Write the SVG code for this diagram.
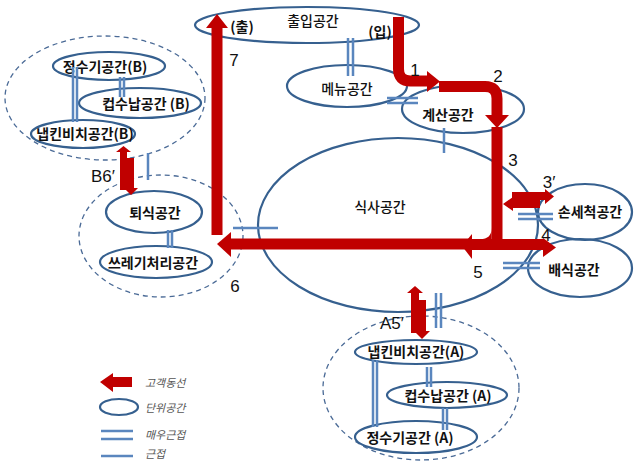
<svg xmlns="http://www.w3.org/2000/svg" width="634" height="462" viewBox="0 0 634 462">
  <style>
    .sp { fill: none; stroke: #36608F; stroke-width: 2.2; }
    .zone { fill: none; stroke: #4A6A96; stroke-width: 1.3; stroke-dasharray: 5 4; }
    .lbl { font-family: "Noto Sans CJK KR", "Liberation Sans", sans-serif; font-size: 14px; font-weight: 500; fill: #111; text-anchor: middle; }
    .b { font-weight: bold; }
    .num { font-family: "Liberation Sans", "Noto Sans CJK KR", sans-serif; font-size: 17px; fill: #111; text-anchor: middle; }
    .flow { fill: none; stroke: #C00000; stroke-width: 11; }
    .head { fill: #C00000; }
    .near2 { stroke: #5A86BE; stroke-width: 2.5; fill: none; }
    .near1 { stroke: #5A86BE; stroke-width: 2.5; fill: none; }
    .leg { font-family: "Noto Sans CJK KR", sans-serif; font-size: 11px; font-style: italic; fill: #555; }
  </style>

  <!-- spaces -->
  <g id="entrance">
    <ellipse class="sp" cx="307" cy="25" rx="112" ry="18"/>
    <text class="lbl" x="313" y="26">출입공간</text>
    <text class="lbl b" x="242" y="32" font-size="13">(출)</text>
    <text class="lbl b" x="380" y="37" font-size="13">(입)</text>
  </g>
  <g id="menu">
    <ellipse class="sp" cx="347" cy="86" rx="60" ry="21"/>
    <text class="lbl" x="347" y="94">메뉴공간</text>
  </g>
  <g id="cashier">
    <ellipse class="sp" cx="463" cy="109" rx="61" ry="24"/>
    <text class="lbl b" x="448" y="120">계산공간</text>
  </g>
  <g id="dining">
    <ellipse class="sp" cx="398" cy="225" rx="140" ry="87"/>
    <text class="lbl" x="380" y="212">식사공간</text>
  </g>
  <g id="handwash">
    <ellipse class="sp" cx="585" cy="212" rx="47" ry="28"/>
    <text class="lbl b" x="590" y="217">손세척공간</text>
  </g>
  <g id="serving">
    <ellipse class="sp" cx="580" cy="268" rx="52" ry="29"/>
    <text class="lbl b" x="574" y="275">배식공간</text>
  </g>

  <!-- cluster B -->
  <g id="cluster-b">
    <ellipse class="zone" cx="105" cy="98" rx="100" ry="62"/>
  </g>
  <g id="water-b">
    <ellipse class="sp" cx="109" cy="66" rx="56" ry="14"/>
    <text class="lbl b" x="105" y="72" font-size="13.5">정수기공간(B)</text>
  </g>
  <g id="cup-b">
    <ellipse class="sp" cx="140" cy="103" rx="61" ry="15"/>
    <text class="lbl b" x="146" y="109" font-size="13.5">컵수납공간 (B)</text>
  </g>
  <g id="napkin-b">
    <ellipse class="sp" cx="83" cy="134" rx="52" ry="14"/>
    <text class="lbl b" x="85" y="139" font-size="13">냅킨비치공간(B)</text>
  </g>

  <!-- return cluster -->
  <g id="cluster-return">
    <ellipse class="zone" cx="161" cy="236" rx="82" ry="61"/>
  </g>
  <g id="tray-return">
    <ellipse class="sp" cx="154" cy="212" rx="48" ry="21"/>
    <text class="lbl b" x="155" y="218">퇴식공간</text>
  </g>
  <g id="waste">
    <ellipse class="sp" cx="156" cy="262" rx="56" ry="16"/>
    <text class="lbl b" x="153" y="268" font-size="13">쓰레기처리공간</text>
  </g>

  <!-- cluster A -->
  <g id="cluster-a">
    <ellipse class="zone" cx="421" cy="388" rx="98" ry="72"/>
  </g>
  <g id="napkin-a">
    <ellipse class="sp" cx="416" cy="352" rx="61" ry="12"/>
    <text class="lbl b" x="416" y="357" font-size="13">냅킨비치공간(A)</text>
  </g>
  <g id="cup-a">
    <ellipse class="sp" cx="447" cy="395" rx="60" ry="13"/>
    <text class="lbl b" x="448" y="401" font-size="13.5">컵수납공간 (A)</text>
  </g>
  <g id="water-a">
    <ellipse class="sp" cx="416" cy="437" rx="61" ry="16"/>
    <text class="lbl b" x="410" y="443" font-size="13.5">정수기공간 (A)</text>
  </g>

  <!-- connectors -->
  <g id="connectors">
    <!-- adjacency marks -->
    <path class="near2" d="M73 67V122M77 67V122"/>
    <path class="near2" d="M120 77V97M124 77V97"/>
    <path class="near1" d="M148 153V180"/>
    <path class="near2" d="M168 230V248M172 230V248"/>
    <path class="near1" d="M233 228H278"/>
    <path class="near2" d="M348 38V76M353 38V76"/>
    <path class="near2" d="M387 98H418M387 103H418"/>
    <path class="near1" d="M444 128V153"/>
    <path class="near2" d="M518 214H553M518 219H553"/>
    <path class="near2" d="M503 263H540M503 268H540"/>
    <path class="near2" d="M436 293V328M441 293V328"/>
    <path class="near2" d="M373 360V427M377 360V427"/>
    <path class="near2" d="M427 367V387M431 367V387"/>
    <path class="near2" d="M443 408V430M447 408V430"/>

    <!-- customer flow -->
    <!-- 1 -->
    <path class="flow" d="M398.5 17V69Q398.5 81 410.5 81H428"/>
    <polygon class="head" points="427,71 440,81.5 427,92"/>
    <!-- 2 -->
    <path class="flow" d="M439 86.5H485Q497 86.5 497 98.5V116"/>
    <polygon class="head" points="485,115 509,115 497,128"/>
    <!-- 3 and 4/5 split -->
    <path class="flow" d="M497 127V245"/>
    <path d="M491.6 228 Q491.6 239.2 480 239.2 L491.6 239.2 Z" fill="#C00000"/>
    <path class="flow" d="M470 244.5H544"/>
    <polygon class="head" points="472,234 462,246 472,259"/>
    <polygon class="head" points="543,238 556,247.5 543,257"/>
    <!-- 6 -->
    <path class="flow" d="M229 244H472" stroke-width="12"/>
    <polygon class="head" points="231,232 217,244 231,257"/>
    <!-- 7 -->
    <path class="flow" d="M217 235V27" stroke-width="10.5"/>
    <polygon class="head" points="206,28 217,14 228,28"/>
    <!-- 3' -->
    <polygon class="head" points="512,192 545,192 545,189 554,196.5 545,204 545,200 512,200"/>
    <polygon class="head" points="540,200 540,208 513,208 513,211 503,204 513,197 513,200"/>
    <!-- A5' -->
    <polygon class="head" points="411,333 411,293 407,293 415,286 423,293 419,293 419,333"/>
    <polygon class="head" points="418,300 426,300 426,331 430,331 422,339 414,331 418,331"/>
    <!-- B6' -->
    <polygon class="head" points="120,190 120,152 116,152 123.5,146 131,152 127,152 127,190"/>
    <polygon class="head" points="127,158 134,158 134,188 138,188 131,195 124,188 127,188"/>

    <!-- step numbers -->
    <text class="num" x="415" y="76">1</text>
    <text class="num" x="498" y="82">2</text>
    <text class="num" x="513" y="166">3</text>
    <text class="num" x="549" y="188">3′</text>
    <text class="num" x="546" y="241">4</text>
    <text class="num" x="478" y="278">5</text>
    <text class="num" x="235" y="292">6</text>
    <text class="num" x="234" y="66">7</text>
    <text class="num" x="103" y="182">B6′</text>
    <text class="num" x="392" y="329">A5′</text>
  </g>

  <!-- legend -->
  <g id="legend">
    <polygon class="head" points="100,382 113,373 113,377 132,377 132,387 113,387 113,392"/>
    <text class="leg" x="145" y="387">고객동선</text>
    <ellipse class="sp" cx="119" cy="407" rx="19" ry="8"/>
    <text class="leg" x="145" y="412">단위공간</text>
    <path class="near2" d="M101 431H133M101 439H133" stroke-width="3"/>
    <text class="leg" x="145" y="439">매우근접</text>
    <path class="near1" d="M101 456H133" stroke-width="3"/>
    <text class="leg" x="145" y="458">근접</text>
  </g>
</svg>
